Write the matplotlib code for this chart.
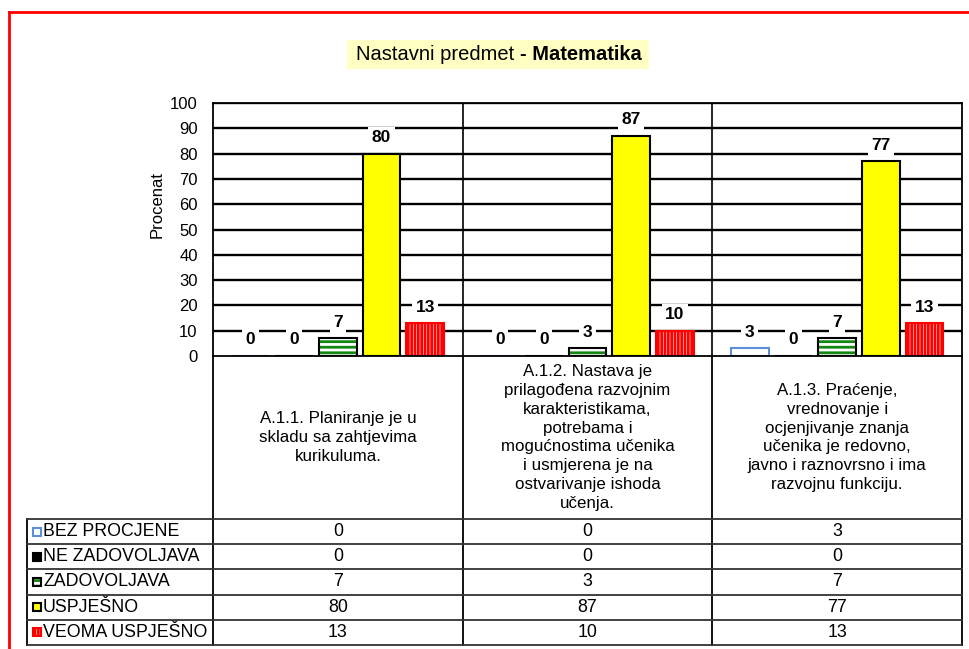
import matplotlib
matplotlib.use("Agg")
import matplotlib.pyplot as plt
import matplotlib.transforms as mtransforms
from matplotlib.patches import Rectangle
from matplotlib.lines import Line2D
import numpy as np

plt.rcParams['font.family'] = ['Liberation Sans', 'DejaVu Sans']
plt.rcParams['hatch.linewidth'] = 2.0

# data
categories = [
    "A.1.1. Planiranje je u\nskladu sa zahtjevima\nkurikuluma.",
    "A.1.2. Nastava je\nprilagođena razvojnim\nkarakteristikama,\npotrebama i\nmogućnostima učenika\ni usmjerena je na\nostvarivanje ishoda\nučenja.",
    "A.1.3. Praćenje,\nvrednovanje i\nocjenjivanje znanja\nučenika je redovno,\njavno i raznovrsno i ima\nrazvojnu funkciju.",
]
series_names = ["BEZ PROCJENE", "NE ZADOVOLJAVA", "ZADOVOLJAVA", "USPJEŠNO", "VEOMA USPJEŠNO"]
bez_procjene = [0, 0, 3]
ne_zadovoljava = [0, 0, 0]
zadovoljava = [7, 3, 7]
uspjesno = [80, 87, 77]
veoma_uspjesno = [13, 10, 13]
series_values = [bez_procjene, ne_zadovoljava, zadovoljava, uspjesno, veoma_uspjesno]
yticks = list(range(0, 101, 10))

# styles: (face, edge, hatch, outline)
styles = [
    dict(face="white", edge="#5B8FD9", hatch=None, outline=None),
    dict(face="black", edge="black", hatch=None, outline=None),
    dict(face="white", edge="#118811", hatch="---", outline="black"),
    dict(face="#FFFF00", edge="black", hatch=None, outline=None),
    dict(face="white", edge="#FF0000", hatch="|||||", outline=None),
]

W, H = 969, 649
fig = plt.figure(figsize=(W / 100, H / 100), dpi=100)


def fx(x):
    return x / W


def fy(y):
    return 1 - y / H


# page frame (red)
fig.add_artist(Line2D([fx(9), 1], [fy(12), fy(12)], color="red", lw=2, transform=fig.transFigure))
fig.add_artist(Line2D([fx(9), fx(9)], [fy(12), 0], color="red", lw=2, transform=fig.transFigure))

left, right, top, zero = 213, 962, 103, 356
ax = fig.add_axes([fx(left), fy(zero), fx(right - left), (zero - top) / H])

x = np.arange(len(categories))
width = 0.15
step = 0.175

ax.set_axisbelow(True)
for yv in yticks[1:]:
    ax.axhline(yv, color="black", lw=1.7, zorder=0)
for xv in [0.5, 1.5]:
    ax.axvline(xv, color="black", lw=1.2, zorder=0)

for k, (vals, st) in enumerate(zip(series_values, styles)):
    pos = x + (k - 2) * step
    if st["hatch"]:
        ax.bar(pos, vals, width, color=st["face"], edgecolor=st["edge"], hatch=st["hatch"],
               lw=0 if st["outline"] else 1.5, zorder=2)
        if st["outline"]:
            ax.bar(pos, vals, width, fill=False, edgecolor=st["outline"], lw=1.5, zorder=3)
    else:
        ax.bar(pos, vals, width, color=st["face"], edgecolor=st["edge"], lw=1.5, zorder=2)
    for px_, v in zip(pos, vals):
        ax.annotate(str(v), (px_, v), xytext=(0, 16), textcoords="offset pixels",
                    ha="center", va="center", fontsize=12.5, fontweight="bold", zorder=5,
                    bbox=dict(facecolor="white", edgecolor="none", pad=2.5))

ax.set_xlim(-0.5, 2.5)
ax.set_ylim(0, 100)
ax.set_yticks(yticks)
ax.set_xticks([])
ax.tick_params(axis="y", length=0, pad=11, labelsize=12)
for s in ax.spines.values():
    s.set_color("black")
    s.set_linewidth(1.3)
ax.set_ylabel("Procenat", fontsize=12)
ax.yaxis.set_label_coords(-0.064, 0.6)

# data table below the chart
blend = mtransforms.blended_transform_factory(ax.transData, fig.transFigure)
table_top = 519
row_h = 25.2
n_rows = len(series_names)
bottom = table_top + n_rows * row_h
tleft = 27

for xv in [-0.5, 0.5, 1.5, 2.5]:
    fig.add_artist(Line2D([xv, xv], [fy(zero), fy(bottom)], color="black", lw=1.3, transform=blend))
fig.add_artist(Line2D([fx(tleft), fx(tleft)], [fy(table_top), fy(bottom)], color="black", lw=1.3,
                      transform=fig.transFigure))
for r in range(n_rows + 1):
    yy = fy(table_top + r * row_h)
    fig.add_artist(Line2D([fx(tleft), fx(right)], [yy, yy], color="#333333", lw=1.3,
                          transform=fig.transFigure))

for i, cat in enumerate(categories):
    fig.text(i, fy((zero + table_top) / 2), cat, transform=blend, ha="center", va="center",
             fontsize=12.2, linespacing=1.32)

for r, (name, vals, st) in enumerate(zip(series_names, series_values, styles)):
    yc = table_top + (r + 0.5) * row_h
    ks = 8
    key = Rectangle((fx(33), fy(yc + ks / 2)), ks / W, ks / H, transform=fig.transFigure,
                    facecolor=st["face"], edgecolor=st["edge"], hatch=st["hatch"],
                    lw=0 if st["outline"] else 1.5)
    fig.add_artist(key)
    if st["outline"]:
        fig.add_artist(Rectangle((fx(33), fy(yc + ks / 2)), ks / W, ks / H, transform=fig.transFigure,
                                 fill=False, edgecolor=st["outline"], lw=1.5))
    fig.text(fx(43), fy(yc), name, ha="left", va="center", fontsize=12.8)
    for i, v in enumerate(vals):
        fig.text(i, fy(yc), str(v), transform=blend, ha="center", va="center", fontsize=12.8)

# title with mixed weight on a light yellow box
t1 = fig.text(fx(514), fy(55), "Nastavni predmet", ha="right", va="center", fontsize=14.5)
t2 = fig.text(fx(520), fy(55), "- Matematika", ha="left", va="center", fontsize=14.5,
              fontweight="bold")
fig.canvas.draw()
r = fig.canvas.get_renderer()
e1 = t1.get_window_extent(r)
e2 = t2.get_window_extent(r)
x0 = e1.x0 - 9
x1 = e2.x1 + 7
fig.add_artist(Rectangle((x0 / W, fy(69)), (x1 - x0) / W, 29 / H, transform=fig.transFigure,
                         facecolor="#FFFFC4", edgecolor="none", zorder=-1))

fig.savefig("out.png", dpi=100)
